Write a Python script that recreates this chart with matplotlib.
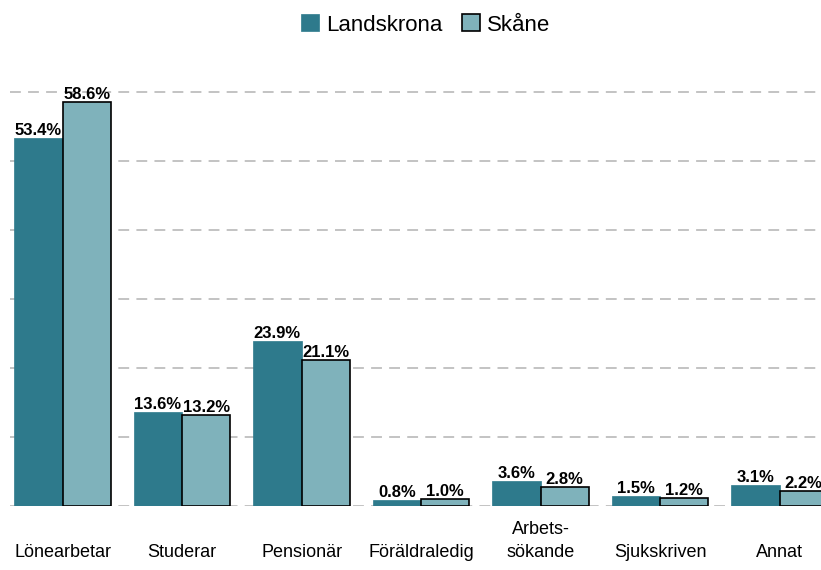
import numpy as np
import matplotlib.pyplot as plt

# Data
categories = ['Lönearbetar', 'Studerar', 'Pensionär', 'Föräldraledig',
              'Arbets-\nsökande', 'Sjukskriven', 'Annat']
landskrona = [53.4, 13.6, 23.9, 0.8, 3.6, 1.5, 3.1]
skane = [58.6, 13.2, 21.1, 1.0, 2.8, 1.2, 2.2]
series_names = ['Landskrona', 'Skåne']

darkColor = '#2E7A8C'
lightColor = '#7FB2BB'

plt.rcParams['font.family'] = ['Liberation Sans', 'DejaVu Sans']

W, H = 821, 570
fig = plt.figure(figsize=(W / 100, H / 100), dpi=100)

# Axes placement in pixels (axes extends a bit past the right edge)
pxPerUnit = 119.5
xLeftPx = 10
x0 = -0.44
x1 = 6.44
axLeft = xLeftPx / W
axWidth = (x1 - x0) * pxPerUnit / W
yTop = 62
baselinePx = 506
pxPerPct = 6.9
axBottom = (H - baselinePx) / H
axHeight = yTop * pxPerPct / H

ax = fig.add_axes([axLeft, axBottom, axWidth, axHeight])
ax.set_xlim(x0, x1)
ax.set_ylim(0, yTop)

x = np.arange(len(categories))
barWidth = 0.405

# Grid
for g in range(0, 70, 10):
    ax.axhline(g, color='#BEBEBE', lw=1.3, ls=(0, (6, 4)), zorder=0)

barsA = ax.bar(x - barWidth / 2, landskrona, barWidth, color=darkColor,
               edgecolor=darkColor, linewidth=0.5, label=series_names[0],
               zorder=2)
barsB = ax.bar(x + barWidth / 2, skane, barWidth, color=lightColor,
               edgecolor='black', linewidth=1.2, label=series_names[1],
               zorder=2)

for bars, vals in ((barsA, landskrona), (barsB, skane)):
    for b, v in zip(bars, vals):
        ax.annotate('%.1f%%' % v, (b.get_x() + b.get_width() / 2, v),
                    xytext=(0, 0), textcoords='offset points',
                    ha='center', va='bottom', fontsize=12,
                    fontweight='bold', color='black', zorder=3)

# Category labels, bottom aligned
for xi, cat in zip(x, categories):
    ax.text(xi, -0.128, cat, transform=ax.get_xaxis_transform(),
            ha='center', va='bottom', fontsize=13, linespacing=1.45,
            color='black')

ax.set_xticks([])
ax.set_yticks([])
for s in ax.spines.values():
    s.set_visible(False)

fig.legend(handles=[barsA, barsB], labels=series_names, ncol=2,
           loc='center', bbox_to_anchor=(425.5 / W, 1 - 25 / H),
           frameon=False, fontsize=16, handlelength=0.8, handleheight=0.8,
           handletextpad=0.3, columnspacing=0.9, borderpad=0)

fig.savefig('out.png', dpi=100)
